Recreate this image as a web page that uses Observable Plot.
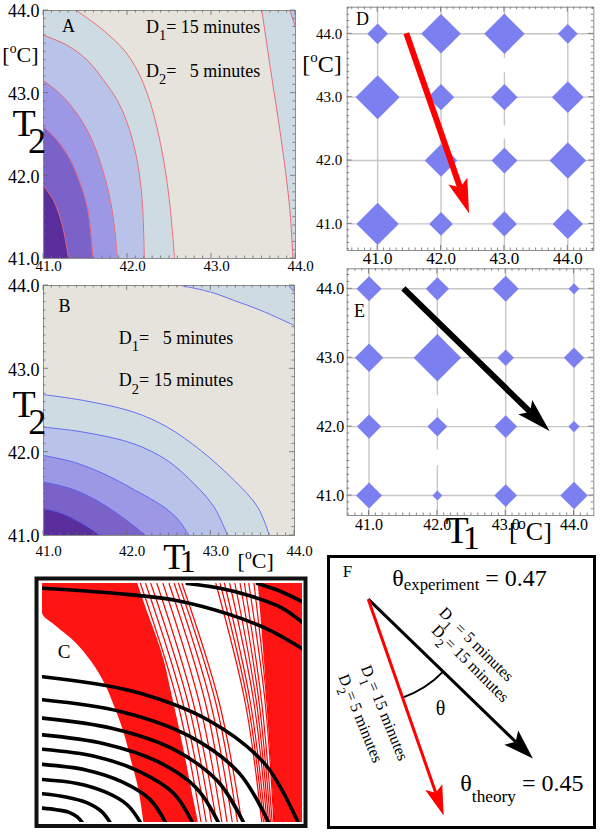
<!DOCTYPE html>
<html><head><meta charset="utf-8">
<script src="https://cdn.jsdelivr.net/npm/d3@7"></script>
<script src="https://cdn.jsdelivr.net/npm/@observablehq/plot@0.6"></script>
<style>
body{margin:0;background:#fff;}
#fig{position:relative;width:600px;height:835px;overflow:hidden;background:#fff;font-family:"Liberation Serif","Times New Roman",serif;}
</style></head><body><div id="fig"></div>
<script>
// ---------------- DATA ----------------
const tempTicks = [41, 42, 43, 44];
const tickLabels = ["41.0", "42.0", "43.0", "44.0"];
const gridRowsT2 = [44, 43, 42, 41];

// Panel A: contour boundaries [T1, T2] (D1 = 15 min, D2 = 5 min)
const contourA1 = [[41.00,41.88],[41.12,41.70],[41.22,41.42],[41.30,41.00]];
const contourA2 = [[41.00,42.59],[41.16,42.43],[41.32,42.19],[41.44,41.90],[41.53,41.58],[41.59,41.00]];
const contourA3 = [[41.00,43.15],[41.20,42.99],[41.40,42.75],[41.56,42.47],[41.68,42.15],[41.78,41.78],[41.84,41.42],[41.88,41.00]];
const contourA4 = [[41.00,43.70],[41.28,43.58],[41.52,43.40],[41.72,43.15],[41.88,42.91],[42.00,42.63],[42.08,42.35],[42.14,42.03],[42.18,41.62],[42.20,41.00]];
const contourA5 = [[41.39,44.00],[41.56,43.88],[41.76,43.72],[41.96,43.52],[42.12,43.27],[42.25,42.95],[42.35,42.59],[42.43,42.19],[42.49,41.78],[42.53,41.38],[42.56,41.00]];
const contourA6 = [[43.60,44.00],[43.70,43.31],[43.82,42.51],[43.90,41.90],[43.94,41.50],[43.97,41.00]];
const contourA7 = [[43.93,44.00],[43.96,43.92],[44.00,43.80]];

// Panel B: contour boundaries [T1, T2] (D1 = 5 min, D2 = 15 min)
const contourB1 = [[41.00,41.32],[41.18,41.28],[41.36,41.20],[41.55,41.09],[41.68,41.00]];
const contourB2 = [[41.00,41.64],[41.30,41.57],[41.60,41.44],[41.90,41.25],[42.10,41.10],[42.22,41.00]];
const contourB3 = [[41.00,41.96],[41.36,41.88],[41.72,41.74],[42.10,41.54],[42.44,41.34],[42.62,41.18],[42.74,41.00]];
const contourB4 = [[41.00,42.30],[41.48,42.24],[42.08,42.10],[42.48,41.90],[42.80,41.62],[43.04,41.34],[43.20,41.00]];
const contourB5 = [[41.00,42.69],[41.48,42.62],[42.08,42.48],[42.48,42.30],[42.88,42.02],[43.28,41.66],[43.56,41.34],[43.70,41.00]];
const contourB6 = [[42.64,44.00],[43.00,43.92],[43.28,43.82],[43.60,43.70],[44.00,43.52]];
const contourB7 = [[43.93,44.00],[44.00,43.92]];

// Panel D / E: relative diamond sizes, rows T2 = 44..41, cols T1 = 41..44
const sizeD = [
  [0.47, 0.90, 0.92, 0.45],
  [1.00, 0.60, 0.60, 0.72],
  [0.00, 0.74, 0.59, 0.83],
  [0.96, 0.54, 0.57, 0.69]];
const sizeE = [
  [0.53, 0.49, 0.55, 0.23],
  [0.60, 1.00, 0.35, 0.43],
  [0.51, 0.42, 0.48, 0.24],
  [0.55, 0.21, 0.48, 0.58]];
const arrowDStart = [41.46, 44.00], arrowDEnd = [42.45, 41.16];
const arrowEStart = [41.51, 44.00], arrowEEnd = [43.65, 41.93];

// Panel C: red contour family (A) and black contour family (B)
const cRedDenseLeft = [ // [T2, inner T1, outer T1]
  [41.00,42.17,42.80],[41.42,42.11,42.72],[41.76,42.03,42.66],[42.13,41.94,42.59],
  [42.43,41.84,42.53],[42.72,41.73,42.47],[43.01,41.57,42.41],[43.26,41.38,42.34],
  [43.47,41.15,42.27],[43.62,41.00,42.22],[44.00,41.00,42.10]];
const cRedDenseRight = [[41.00,43.69],[42.50,43.60],[44.00,43.49]]; // [T2, inner T1]
const cRedLevelsT2 = [44, 42.5, 41];
const cRedLeftLines = [ // T1 at T2 = 44, 42.5, 41
  [42.13,42.56,42.83],[42.19,42.62,42.89],[42.25,42.68,42.95],[42.32,42.74,43.01],
  [42.39,42.81,43.07],[42.46,42.88,43.13],[42.52,42.94,43.19],[42.57,43.00,43.25],
  [42.61,43.04,43.30]];
const cRedRightLines = [
  [43.00,43.34,43.53],[43.05,43.37,43.55],[43.10,43.40,43.57],[43.16,43.44,43.59],
  [43.22,43.47,43.61],[43.28,43.50,43.63],[43.33,43.53,43.65],[43.38,43.57,43.67],
  [43.44,43.59,43.68]];
const cBlack = [
  [[41.00,43.94],[41.80,43.88],[42.53,43.79],[43.19,43.60],[43.63,43.41],[44.00,43.18]],
  [[42.67,44.00],[43.05,43.94],[43.38,43.85],[43.75,43.70],[44.00,43.51]],
  [[43.48,44.00],[43.75,43.90],[44.00,43.77]],
  [[41.00,42.83],[42.03,42.65],[42.92,42.28],[43.57,41.73],[43.95,41.00]],
  [[41.00,42.54],[41.91,42.39],[42.70,42.08],[43.27,41.62],[43.61,41.00]],
  [[41.00,42.31],[41.81,42.18],[42.51,41.92],[43.02,41.52],[43.32,41.00]],
  [[41.00,42.10],[41.71,41.99],[42.32,41.77],[42.77,41.44],[43.03,41.00]],
  [[41.00,41.92],[41.61,41.83],[42.12,41.64],[42.51,41.37],[42.73,41.00]],
  [[41.00,41.73],[41.50,41.66],[41.92,41.51],[42.24,41.29],[42.42,41.00]],
  [[41.00,41.54],[41.40,41.49],[41.73,41.38],[41.98,41.22],[42.13,41.00]],
  [[41.00,41.36],[41.27,41.32],[41.51,41.25],[41.68,41.14],[41.78,41.00]],
  [[41.00,41.18],[41.16,41.16],[41.30,41.13],[41.40,41.07],[41.46,41.00]]];

// Panel F
const thetaExperiment = "0.47", thetaTheory = "0.45";
const arcRadius = 0.455;

// ---------------- STYLE / HELPERS ----------------
const FONT = '"Liberation Serif","Times New Roman",serif';
const BANDS = ["#5a2d9c", "#7a62c8", "#9c98e6", "#b9c3ea", "#cfdbe3"];
const BEIGE = "#e6e3dc", FRAME = "#8c8c8c", GRID = "#c6c6c6", DIAMOND = "#7b7ff0";
const curve = "catmull-rom";
const svgStyle = {background: "transparent", overflow: "visible", fontFamily: FONT};
const fig = document.getElementById("fig");
const diamondSymbol = {draw(ctx, size) { const h = Math.sqrt(size / Math.PI);
  ctx.moveTo(0, -h); ctx.lineTo(h, 0); ctx.lineTo(0, h); ctx.lineTo(-h, 0); ctx.closePath(); }};

function mount(svg, left, top) {
  svg.style.position = "absolute"; svg.style.left = left + "px"; svg.style.top = top + "px";
  svg.style.maxWidth = "none";
  fig.appendChild(svg); richText(svg); return svg;
}
function txt(s, x, y, o = {}) { return Plot.text([s], {x, y, text: d => d, textAnchor: "start", ...o}); }
function xTicks(o) { return Plot.text(tempTicks, {x: d => d, text: (d, i) => tickLabels[i], frameAnchor: "bottom", lineAnchor: "top", ...o}); }
function yTicks(o) { return Plot.text(tempTicks, {y: d => d, text: (d, i) => tickLabels[i], frameAnchor: "left", textAnchor: "end", ...o}); }
function linesOf(list) { return list.flatMap((pts, k) => pts.map(p => ({t1: p[0], t2: p[1], k}))); }
function cells(sizes) {
  const out = [];
  gridRowsT2.forEach((t2, i) => tempTicks.forEach((t1, j) => { if (sizes[i][j] > 0) out.push({t1, t2, v: sizes[i][j]}); }));
  return out;
}
// inward Mathematica-style frame ticks (major at whole degrees, minor every 0.1)
function frameTicks(xDomain, yDomain) {
  return (index, scales, values, dims) => {
    const x = scales.x, y = scales.y;
    const L = dims.marginLeft, R = dims.width - dims.marginRight, T = dims.marginTop, B = dims.height - dims.marginBottom;
    const p = d3.path();
    for (let v = Math.ceil(xDomain[0] * 10); v <= Math.floor(xDomain[1] * 10); v++) {
      const len = v % 10 === 0 ? 5 : 2.5, px = x(v / 10);
      p.moveTo(px, B); p.lineTo(px, B - len); p.moveTo(px, T); p.lineTo(px, T + len);
    }
    for (let v = Math.ceil(yDomain[0] * 10); v <= Math.floor(yDomain[1] * 10); v++) {
      const len = v % 10 === 0 ? 5 : 2.5, py = y(v / 10);
      p.moveTo(L, py); p.lineTo(L + len, py); p.moveTo(R, py); p.lineTo(R - len, py);
    }
    return d3.create("svg:path").attr("d", p.toString()).attr("fill", "none")
      .attr("stroke", "#6a6a6a").attr("stroke-width", 0.8).node();
  };
}
function fatArrow(start, end, {color, width, headLength, headWidth}) {
  return (index, scales) => {
    const x = scales.x, y = scales.y;
    const x1 = x(start[0]), y1 = y(start[1]), x2 = x(end[0]), y2 = y(end[1]);
    const L = Math.hypot(x2 - x1, y2 - y1), ux = (x2 - x1) / L, uy = (y2 - y1) / L;
    const bx = x2 - ux * headLength, by = y2 - uy * headLength;
    const nx = x2 - ux * headLength * 0.8, ny = y2 - uy * headLength * 0.8;
    const g = d3.create("svg:g");
    g.append("line").attr("x1", x1).attr("y1", y1).attr("x2", nx).attr("y2", ny)
      .attr("stroke", color).attr("stroke-width", width);
    g.append("path").attr("fill", color)
      .attr("d", `M${x2},${y2}L${bx - uy * headWidth},${by + ux * headWidth}L${nx},${ny}L${bx + uy * headWidth},${by - ux * headWidth}Z`);
    return g.node();
  };
}
// rich text: _{..} subscript, _[text|shift|size|dx] custom subscript, _(..) shallow, _<..> deep, ^{..} superscript
function richText(svg) {
  svg.querySelectorAll("text").forEach(t => {
    if (t.querySelector("tspan")) return;
    const s = t.textContent;
    const re = /([_^])([{\[(<])(.*?)[}\])>]/g;
    if (!/[_^][{\[(<]/.test(s)) return;
    const fs = parseFloat(getComputedStyle(t).fontSize);
    t.textContent = "";
    let last = 0, shift = 0, m;
    const add = (str, o) => {
      const ts = document.createElementNS("http://www.w3.org/2000/svg", "tspan");
      ts.textContent = str;
      const target = o.shift || 0;
      if (target !== shift) ts.setAttribute("dy", target - shift);
      if (o.dx) ts.setAttribute("dx", o.dx);
      if (o.size) ts.setAttribute("font-size", o.size);
      shift = target; t.appendChild(ts);
    };
    while ((m = re.exec(s))) {
      if (m.index > last) add(s.slice(last, m.index), {});
      if (m[1] === "^") add(m[3], {shift: -0.42 * fs, size: 0.62 * fs});
      else if (m[2] === "{") add(m[3], {shift: 0.42 * fs, size: 0.8 * fs});
      else if (m[2] === "[") {
        const [str, sh, sz, dx] = m[3].split("|");
        add(str, {shift: +sh * fs, size: +sz * fs, dx: +dx * fs});
      }
      else if (m[2] === "(") add(m[3], {shift: 0.18 * fs, size: 0.7 * fs});
      else add(m[3], {shift: 0.45 * fs, size: 0.72 * fs});
      last = re.lastIndex;
    }
    if (last < s.length) add(s.slice(last), {});
  });
}

// ---------------- PANEL A ----------------
const bandsA = [contourA1, contourA2, contourA3, contourA4, contourA5];
mount(Plot.plot({
  width: 300, height: 280, marginLeft: 43, marginRight: 5, marginTop: 10, marginBottom: 22,
  x: {domain: [41, 44], axis: null}, y: {domain: [41, 44], axis: null}, style: svgStyle,
  marks: [
    Plot.frame({fill: BEIGE, stroke: "none"}),
    ...[4, 3, 2, 1, 0].map(i => Plot.areaX(bandsA[i], {y: d => d[1], x1: 41, x2: d => d[0], fill: BANDS[i], curve, clip: true})),
    Plot.areaX(contourA6, {y: d => d[1], x1: d => d[0], x2: 44, fill: BANDS[4], curve, clip: true}),
    Plot.areaX(contourA7, {y: d => d[1], x1: d => d[0], x2: 44, fill: BANDS[3], curve, clip: true}),
    Plot.line(linesOf([...bandsA, contourA6, contourA7]), {x: "t1", y: "t2", z: "k", stroke: "#ee5f6d", strokeWidth: 0.9, curve, clip: true}),
    Plot.frame({stroke: FRAME}),
    frameTicks([41, 44], [41, 44]),
    xTicks({fontSize: 15, dy: 2, dx: 5}),
    yTicks({fontSize: 18, dx: -4, dy: 1}),
    txt("A", 41.22, 43.81, {fontSize: 18}),
    txt("D_{1}= 15 minutes", 42.22, 43.80, {fontSize: 18}),
    txt("D_{2}=   5 minutes", 42.22, 43.27, {fontSize: 18}),
    txt("[^{o}C]", 40.51, 43.46, {fontSize: 22}),
    txt("T_[2|0.45|0.95|-0.2]", 40.63, 42.63, {fontSize: 38})
  ]
}), 0, 0);

// ---------------- PANEL B ----------------
const bandsB = [contourB1, contourB2, contourB3, contourB4, contourB5];
mount(Plot.plot({
  width: 300, height: 300, marginLeft: 43, marginRight: 6, marginTop: 5, marginBottom: 45,
  x: {domain: [41, 44], axis: null}, y: {domain: [41, 44], axis: null}, style: svgStyle,
  marks: [
    Plot.frame({fill: BEIGE, stroke: "none"}),
    ...[4, 3, 2, 1, 0].map(i => Plot.areaY(bandsB[i], {x: d => d[0], y1: 41, y2: d => d[1], fill: BANDS[i], curve, clip: true})),
    Plot.areaY(contourB6, {x: d => d[0], y1: d => d[1], y2: 44, fill: BANDS[4], curve, clip: true}),
    Plot.areaY(contourB7, {x: d => d[0], y1: d => d[1], y2: 44, fill: BANDS[3], curve, clip: true}),
    Plot.line(linesOf([...bandsB, contourB6, contourB7]), {x: "t1", y: "t2", z: "k", stroke: "#5b63f2", strokeWidth: 0.9, curve, clip: true}),
    Plot.frame({stroke: FRAME}),
    frameTicks([41, 44], [41, 44]),
    xTicks({fontSize: 15, dy: 10, dx: 5}),
    yTicks({fontSize: 18, dx: -4, dy: 1}),
    txt("B", 41.18, 43.75, {fontSize: 18}),
    txt("D_{1}=   5 minutes", 41.90, 43.37, {fontSize: 18}),
    txt("D_{2}= 15 minutes", 41.90, 42.86, {fontSize: 18}),
    txt("T_[2|0.45|0.95|-0.2]", 40.63, 42.57, {fontSize: 38}),
    txt("T_[1|0.08|0.9|-0.16]", 42.43, 40.74, {fontSize: 36}),
    txt("[^{o}C]", 43.32, 40.69, {fontSize: 22})
  ]
}), 0, 280);

// ---------------- PANEL D ----------------
mount(Plot.plot({
  width: 300, height: 272, marginLeft: 46.7, marginRight: 6.7, marginTop: 6.7, marginBottom: 22,
  x: {domain: [40.52, 44.41], axis: null}, y: {domain: [40.58, 44.42], axis: null},
  r: {type: "linear", domain: [0, 1], range: [0, 22]}, style: svgStyle,
  marks: [
    Plot.ruleX(tempTicks, {stroke: GRID, strokeWidth: 1.4}),
    Plot.ruleY(tempTicks, {stroke: GRID, strokeWidth: 1.4}),
    Plot.dot(cells(sizeD), {x: "t1", y: "t2", r: "v", symbol: diamondSymbol, fill: DIAMOND, stroke: "none"}),
    txt("D_{1}= 15 minutes", 42.26, 43.50, {fontSize: 16, stroke: "white", strokeWidth: 5}),
    txt("D_{2}= 5 minutes", 42.26, 42.47, {fontSize: 16, stroke: "white", strokeWidth: 5}),
    fatArrow(arrowDStart, arrowDEnd, {color: "#ff0000", width: 6, headLength: 34, headWidth: 10}),
    Plot.frame({stroke: FRAME}),
    frameTicks([40.52, 44.41], [40.58, 44.42]),
    xTicks({fontSize: 17, dy: 1}),
    yTicks({fontSize: 15, dx: -5}),
    txt("D", 40.66, 44.23, {fontSize: 18}),
    txt("[^{o}C]", 39.81, 43.52, {fontSize: 24})
  ]
}), 300, 0);

// ---------------- PANEL E ----------------
mount(Plot.plot({
  width: 300, height: 290, marginLeft: 46.7, marginRight: 6.7, marginTop: 6.3, marginBottom: 37,
  x: {domain: [40.68, 44.29], axis: null}, y: {domain: [40.71, 44.29], axis: null},
  r: {type: "linear", domain: [0, 1], range: [0, 23.7]}, style: svgStyle,
  marks: [
    Plot.ruleX(tempTicks, {stroke: GRID, strokeWidth: 1.4}),
    Plot.ruleY(tempTicks, {stroke: GRID, strokeWidth: 1.4}),
    Plot.dot(cells(sizeE), {x: "t1", y: "t2", r: "v", symbol: diamondSymbol, fill: DIAMOND, stroke: "none"}),
    txt("D_{1}= 5 minutes", 41.34, 42.37, {fontSize: 16, stroke: "white", strokeWidth: 5}),
    txt("D_{2}= 15 minutes", 41.34, 41.54, {fontSize: 16, stroke: "white", strokeWidth: 5}),
    fatArrow(arrowEStart, arrowEEnd, {color: "#000000", width: 6, headLength: 34, headWidth: 10}),
    Plot.frame({stroke: FRAME}),
    frameTicks([40.68, 44.29], [40.71, 44.29]),
    xTicks({fontSize: 16, dy: 3}),
    yTicks({fontSize: 16, dx: -3}),
    txt("E", 40.78, 43.67, {fontSize: 18}),
    txt("T_[1|0.15|0.9|-0.16]", 42.12, 40.49, {fontSize: 38}),
    txt("[^{o}C]", 43.05, 40.47, {fontSize: 26})
  ]
}), 300, 262);

// ---------------- PANEL C ----------------
const redLines = levels => levels.map(l => l.map((t1, i) => [t1, cRedLevelsT2[i]]));
mount(Plot.plot({
  width: 280, height: 262, marginLeft: 12, marginRight: 8, marginTop: 11, marginBottom: 12,
  x: {domain: [41, 44], axis: null}, y: {domain: [41, 44], axis: null}, style: svgStyle,
  marks: [
    Plot.areaX(cRedDenseLeft, {y: d => d[0], x1: d => d[1], x2: d => d[2], fill: "#ff1414", curve, clip: true}),
    Plot.areaX(cRedDenseRight, {y: d => d[0], x1: d => d[1], x2: 44, fill: "#ff1414", curve, clip: true}),
    Plot.line(linesOf([...redLines(cRedLeftLines), ...redLines(cRedRightLines)]), {x: "t1", y: "t2", z: "k", stroke: "#ff0000", strokeWidth: 1.2, curve, clip: true}),
    Plot.line(linesOf(cBlack), {x: "t1", y: "t2", z: "k", stroke: "#000", strokeWidth: 3.6, curve, clip: true}),
    Plot.frame({stroke: "#111", strokeWidth: 4, insetLeft: -6, insetRight: -3, insetTop: -5, insetBottom: -3.5}),
    txt("C", 41.25, 43.14, {fontSize: 19, textAnchor: "middle"})
  ]
}), 30, 572);

// ---------------- PANEL F ----------------
const unitVec = (s, e) => { const dx = e[0] - s[0], dy = e[1] - s[1], L = Math.hypot(dx, dy); return [dx / L, dy / L]; };
const dirRed = unitVec(arrowDStart, arrowDEnd), dirBlack = unitVec(arrowEStart, arrowEEnd);
const origin = [0, 0];
const arcMark = (index, scales) => {
  const x = scales.x, y = scales.y;
  const R = Math.abs(x(arcRadius) - x(0));
  const ax = x(arcRadius * dirBlack[0]), ay = y(arcRadius * dirBlack[1]);
  const bx = x(arcRadius * dirRed[0]), by = y(arcRadius * dirRed[1]);
  return d3.create("svg:path").attr("d", `M${ax},${ay}A${R},${R} 0 0 1 ${bx},${by}`)
    .attr("fill", "none").attr("stroke", "#000").attr("stroke-width", 2).node();
};
mount(Plot.plot({
  width: 280, height: 285, marginLeft: 7, marginRight: 5, marginTop: 5, marginBottom: 7,
  x: {domain: [-0.180, 0.990], axis: null}, y: {domain: [-0.999, 0.193], axis: null}, style: svgStyle,
  marks: [
    Plot.frame({stroke: "#000", strokeWidth: 3, inset: 1}),
    arcMark,
    fatArrow(origin, dirBlack, {color: "#000", width: 3, headLength: 30, headWidth: 10}),
    fatArrow(origin, dirRed, {color: "#ff0000", width: 3, headLength: 30, headWidth: 9}),
    txt("F", -0.093, 0.124, {fontSize: 17, textAnchor: "middle"}),
    txt("θ_(experiment) = " + thetaExperiment, 0.103, 0.095, {fontSize: 24}),
    txt("θ_<theory> = " + thetaTheory, 0.400, -0.802, {fontSize: 24}),
    txt("θ", 0.313, -0.476, {fontSize: 20, textAnchor: "middle"}),
    txt("D_{1} = 5 minutes", 0.470, -0.195, {fontSize: 16, textAnchor: "middle", rotate: 45}),
    txt("D_{2}= 15 minutes", 0.444, -0.279, {fontSize: 16, textAnchor: "middle", rotate: 45}),
    txt("D_{1}= 15 minutes", 0.069, -0.494, {fontSize: 16, textAnchor: "middle", rotate: 68}),
    txt("D_{2}= 5 minutes", -0.036, -0.518, {fontSize: 16, textAnchor: "middle", rotate: 68})
  ]
}), 320, 550);
</script></body></html>
